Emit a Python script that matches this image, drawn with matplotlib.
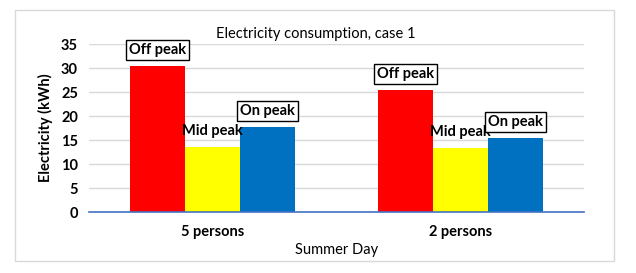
import matplotlib
matplotlib.use('Agg')
import matplotlib.pyplot as plt
from matplotlib.patches import Rectangle
import numpy as np

# data
categories = ['5 persons', '2 persons']
off_peak = [30.4, 25.4]
mid_peak = [13.6, 13.3]
on_peak = [17.8, 15.35]
series_names = ['Off peak', 'Mid peak', 'On peak']
yticks = [0, 5, 10, 15, 20, 25, 30, 35]

plt.rcParams['font.family'] = ['Lato', 'DejaVu Sans']

W, H = 636, 273
fig = plt.figure(figsize=(W / 100, H / 100), dpi=100)
fig.patch.set_facecolor('white')

# outer chart frame
fig.patches.append(Rectangle((15 / W, 1 - 261 / H), (614 - 15) / W, (261 - 10) / H,
                             transform=fig.transFigure, fill=False,
                             edgecolor='#d9d9d9', linewidth=1))

ax = fig.add_axes([89 / W, 1 - 212 / H, (584 - 89) / W, (212 - 44) / H])

x = np.arange(len(categories))
w = 0.222
colors = ['#ff0000', '#ffff00', '#0070c0']
all_vals = [off_peak, mid_peak, on_peak]

for i, (vals, name, c) in enumerate(zip(all_vals, series_names, colors)):
    pos = x + (i - 1) * w
    ax.bar(pos, vals, width=w, color=c, zorder=2)
    for px, v in zip(pos, vals):
        if name == 'Mid peak':
            box = None
        else:
            box = dict(boxstyle='square,pad=0.2', fc='white', ec='black', lw=1)
        ax.annotate(name, (px, v), xytext=(0, 11.5), textcoords='offset points',
                    ha='center', va='center', fontsize=10.5, fontweight='bold',
                    bbox=box, zorder=5)

ax.set_xlim(-0.5, 1.5)
ax.set_ylim(0, 35)
ax.set_yticks(yticks)
ax.set_xticks(x)
ax.set_xticklabels(categories, fontsize=10.5, fontweight='bold')
for lbl in ax.get_yticklabels():
    lbl.set_fontweight('bold')
    lbl.set_fontsize(10.5)
ax.grid(axis='y', color='#d9d9d9', linewidth=1, zorder=0)
for s in ['top', 'right', 'left']:
    ax.spines[s].set_visible(False)
ax.spines['bottom'].set_color('#4472c4')
ax.spines['bottom'].set_linewidth(1.2)
ax.tick_params(length=0, pad=8)
ax.tick_params(axis='x', pad=9.5)

ax.set_ylabel('Electricity (kWh)', fontsize=10.5, fontweight='bold', labelpad=6)
ax.set_xlabel('Summer Day', fontsize=10.5, labelpad=3)

fig.text(316 / W, 1 - 34 / H, 'Electricity consumption, case 1', ha='center',
         va='center', fontsize=10.5)

fig.savefig('out.png', dpi=100)
